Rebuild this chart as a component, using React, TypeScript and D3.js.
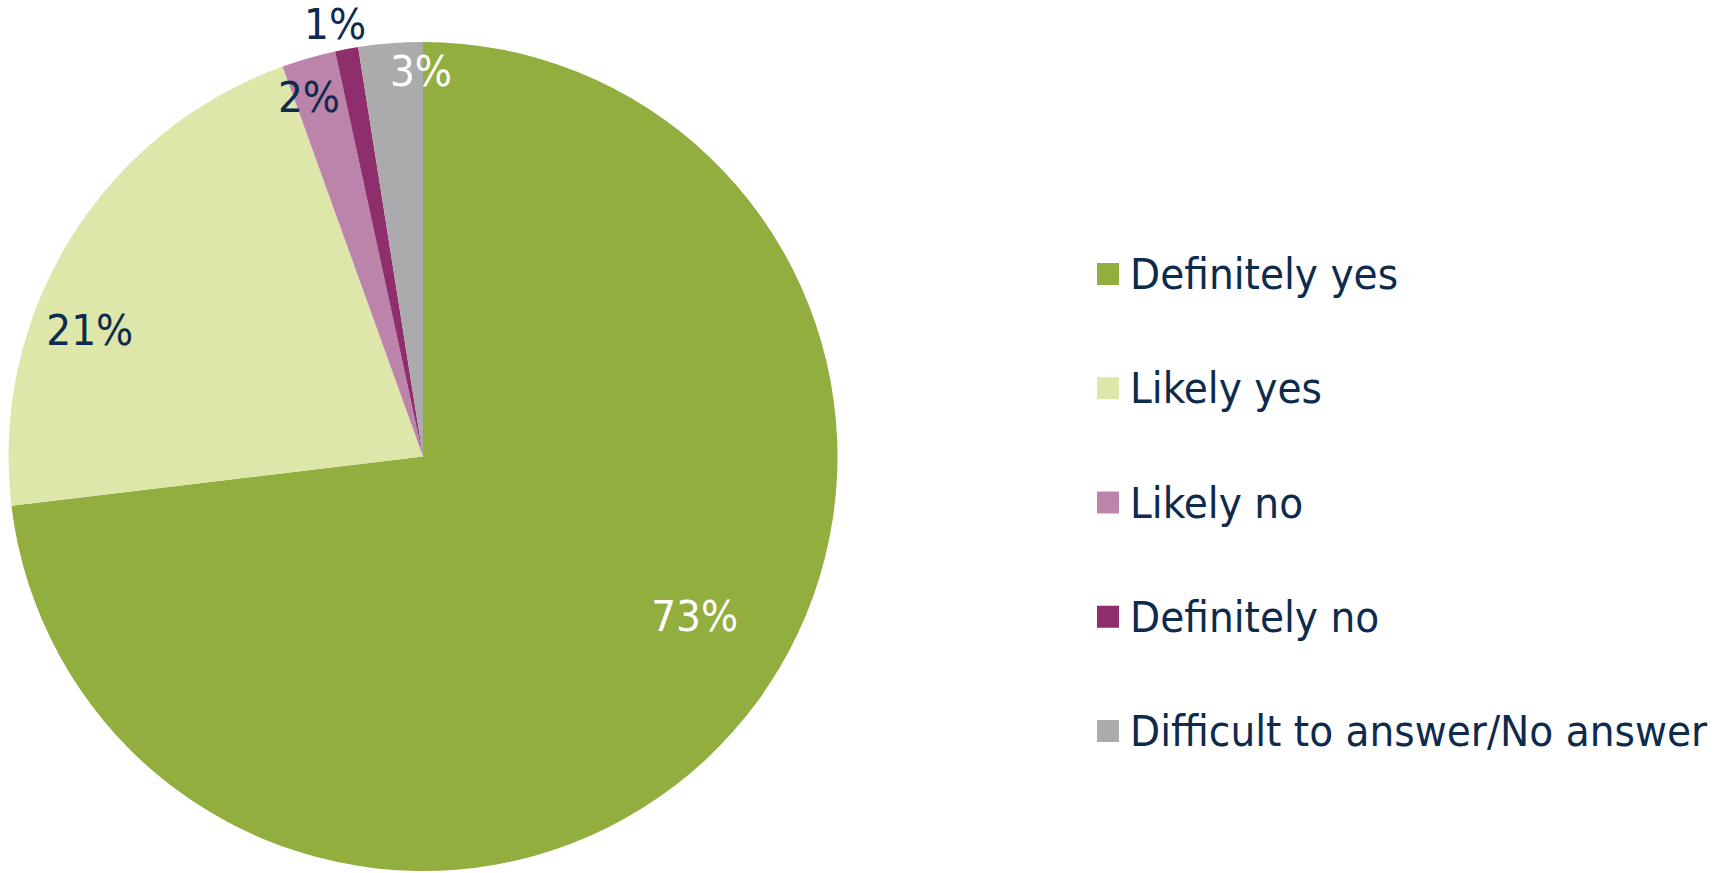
import React from "react";
import * as d3 from "d3";

const categories = ["Definitely yes", "Likely yes", "Likely no", "Definitely no", "Difficult to answer/No answer"];
const values = [73.1, 21.4, 2.1, 0.9, 2.5];
const labels = ["73%", "21%", "2%", "1%", "3%"];
const colors = ["#92AE3F", "#DCE7A9", "#BC83AB", "#8E2E6D", "#ABABAD"];
const labelColors = ["#FFFFFF", "#0E2A4C", "#0E2A4C", "#0E2A4C", "#FFFFFF"];
// label placement: polar angle (deg, clockwise from top) and radius relative to pie
const labelPolar: [number, number][] = [[120.4, 0.76], [290.8, 0.86], [342.4, 0.91], [348.5, 1.064], [359.7, 0.93]];

const W = 1724, H = 873;
const cx = 423, cy = 456.5, R = 414.5;
const FONT = "'DejaVu Sans Condensed', 'DejaVu Sans', sans-serif";
const FS = 43.5;

export default function App() {
  const pie = d3.pie<number>().sort(null).value((d) => d);
  const arcs = pie(values);
  const arc = d3.arc<d3.PieArcDatum<number>>().innerRadius(0).outerRadius(R);
  const legendY = d3.scalePoint<string>().domain(categories).range([274, 731]);
  return (
    <svg width={W} height={H} style={{ position: "absolute", left: 0, top: 0, background: "#fff" }}>
      <g transform={`translate(${cx},${cy})`}>
        {arcs.map((a, i) => (
          <path key={i} d={arc(a) || ""} fill={colors[i]} />
        ))}
        {labels.map((t, i) => {
          const [deg, rf] = labelPolar[i];
          const ang = (deg * Math.PI) / 180;
          const x = Math.sin(ang) * R * rf;
          const y = -Math.cos(ang) * R * rf;
          return (
            <text key={i} x={x} y={y} textAnchor="middle" dominantBaseline="central" fill={labelColors[i]} fontFamily={FONT} fontSize={FS}>
              {t}
            </text>
          );
        })}
      </g>
      {categories.map((c, i) => {
        const y = legendY(c)!;
        return (
          <g key={c}>
            <rect x={1097} y={y - 11} width={22} height={22} fill={colors[i]} />
            <text x={1130} y={y} dominantBaseline="central" fill="#0E2A4C" fontFamily={FONT} fontSize={FS}>
              {c}
            </text>
          </g>
        );
      })}
    </svg>
  );
}
